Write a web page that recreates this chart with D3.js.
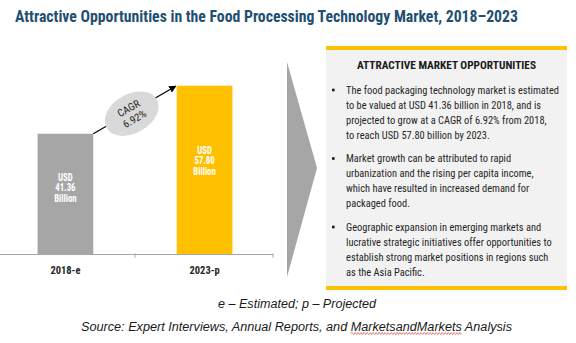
<!DOCTYPE html>
<html><head><meta charset="utf-8">
<script src="https://cdn.jsdelivr.net/npm/d3@7"></script>
<style>body{margin:0;background:#fff} svg{display:block}</style>
</head><body>
<script>
const titleText = "Attractive Opportunities in the Food Processing Technology Market, 2018–2023";
const categories = ["2018-e", "2023-p"];
const values = [41.36, 57.80];
const valueLabels = ["41.36", "57.80"];
const unitPrefix = "USD";
const unitSuffix = "Billion";
const cagrLines = ["CAGR", "6.92%"];
const panelTitle = "ATTRACTIVE MARKET OPPORTUNITIES";
const bullet1 = ["The food packaging technology market is estimated",
  "to be valued at USD 41.36 billion in 2018, and is",
  "projected to grow at a CAGR of 6.92% from 2018,",
  "to reach USD 57.80 billion by 2023."];
const bullet2 = ["Market growth can be attributed to rapid",
  "urbanization and the rising per capita income,",
  "which have resulted in increased demand for",
  "packaged food."];
const bullet3 = ["Geographic expansion in emerging markets and",
  "lucrative strategic initiatives offer opportunities to",
  "establish strong market positions in regions such",
  "as the Asia Pacific."];
const footnote = "e – Estimated; p – Projected";
const sourceNote = "Source: Expert Interviews, Annual Reports, and MarketsandMarkets  Analysis";
const spellWord = "MarketsandMarkets";

const W = 576, H = 343;
const COND = "'Liberation Sans Narrow','Arial Narrow','Roboto Condensed','DejaVu Sans Condensed','Liberation Sans',sans-serif";
const SANS = "'Liberation Sans',Arial,sans-serif";
const svg = d3.select("body").append("svg").attr("width", W).attr("height", H);

function fitTo(sel, target) {
  sel.attr("textLength", target).attr("lengthAdjust", "spacingAndGlyphs");
}
function fitGroup(sel, refNode, target) {
  const f = target / refNode.getComputedTextLength();
  sel.each(function () {
    const w = this.getComputedTextLength();
    d3.select(this).attr("textLength", w * f).attr("lengthAdjust", "spacingAndGlyphs");
  });
}

// Title
const title = svg.append("text").attr("x", 15).attr("y", 21.5)
  .attr("font-family", COND).attr("font-weight", "bold").attr("font-size", 16)
  .attr("fill", "#1f4f72").text(titleText);
fitTo(title, 503);

// Left chart
const baseY = 254.5;
const x = d3.scaleBand().domain(categories).range([0, 270]).paddingInner(0.6).paddingOuter(0.27);
const y = d3.scaleLinear().domain([0, 60]).range([baseY, baseY - 60 * 2.92]);
const colors = ["#a6a6a6", "#ffc000"];

svg.append("g").selectAll("rect").data(values).join("rect")
  .attr("x", (d, i) => x(categories[i])).attr("width", x.bandwidth())
  .attr("y", d => y(d)).attr("height", d => y(0) - y(d))
  .attr("fill", (d, i) => colors[i]);

const axisG = svg.append("g").attr("transform", `translate(0,${baseY})`)
  .call(d3.axisBottom(x).tickSize(0).tickPadding(12));
axisG.select(".domain").remove();
axisG.selectAll(".tick text").attr("font-family", COND).attr("font-weight", "bold")
  .attr("font-size", 10.5).attr("fill", "#262626").attr("dy", "0.71em");
const catTexts = axisG.selectAll(".tick text");
fitGroup(catTexts, catTexts.node(), 30);
const [r0, r1] = x.range();
axisG.append("line").attr("x1", r0).attr("x2", r1 + 3).attr("y1", 0).attr("y2", 0)
  .attr("stroke", "#a6a6a6").attr("stroke-width", 1);
const boundaries = [x(categories[1]) - x.step() * x.paddingInner() / 2, r1 + 3];
axisG.selectAll(".btick").data(boundaries).join("line").attr("class", "btick")
  .attr("x1", d => d).attr("x2", d => d).attr("y1", -1).attr("y2", 3)
  .attr("stroke", "#a6a6a6");

// bar value labels
const labG = svg.append("g");
const labOffsets = [-6.5, -9.5];
values.forEach((v, i) => {
  const cx = x(categories[i]) + x.bandwidth() / 2;
  const mid = (y(v) + y(0)) / 2 + labOffsets[i];
  const lines = [unitPrefix, valueLabels[i], unitSuffix];
  lines.forEach((t, j) => {
    labG.append("text").attr("x", cx).attr("y", mid + (j - 1) * 10.5)
      .attr("dy", "0.35em").attr("text-anchor", "middle")
      .attr("font-family", COND).attr("font-weight", "bold").attr("font-size", 10)
      .attr("fill", "#ffffff").attr("class", "vl").text(t);
  });
});
const vl = labG.selectAll("text.vl");
fitGroup(vl, vl.filter((d, i) => i === 2).node(), 22.5);

// CAGR arrow
const p0 = [x(categories[0]) + x.bandwidth(), y(values[0])];
const p1 = [x(categories[1]), y(values[1])];
const defs = svg.append("defs");
defs.append("marker").attr("id", "ah").attr("viewBox", "0 0 10 10").attr("refX", 9).attr("refY", 5)
  .attr("markerWidth", 6).attr("markerHeight", 6).attr("orient", "auto")
  .append("path").attr("d", "M0,0 L10,5 L0,10 z").attr("fill", "#000");
svg.append("line").attr("x1", p0[0]).attr("y1", p0[1]).attr("x2", p1[0] - 1).attr("y2", p1[1] + 0.5)
  .attr("stroke", "#000").attr("stroke-width", 1.2).attr("marker-end", "url(#ah)");
const ang = Math.atan2(p1[1] - p0[1], p1[0] - p0[0]) * 180 / Math.PI;
const ec = [p0[0] + (p1[0] - p0[0]) * 0.46, p0[1] + (p1[1] - p0[1]) * 0.46 + 2];
const eg = svg.append("g").attr("transform", `translate(${ec[0]},${ec[1]}) rotate(${ang})`);
eg.append("ellipse").attr("rx", 29).attr("ry", 19.5).attr("fill", "#d9d9d9");
const ct = eg.selectAll("text").data(cagrLines).join("text")
  .attr("x", 0).attr("y", (d, i) => (i - 0.5) * 12).attr("dy", "0.35em").attr("text-anchor", "middle")
  .attr("font-family", COND).attr("font-size", 10.5).attr("fill", "#262626").text(d => d);
fitGroup(ct, ct.node(), 24);

// chevron
svg.append("path").attr("d", "M287,62 L317,168 L287,277 Z").attr("fill", "#a6a6a6");

// panel
const px0 = 326, px1 = 567, py0 = 46, py1 = 290;
svg.append("rect").attr("x", px0).attr("y", py0).attr("width", px1 - px0).attr("height", py1 - py0).attr("fill", "#f2f2f2");
svg.append("rect").attr("x", px0).attr("y", py0).attr("width", px1 - px0).attr("height", 4).attr("fill", "#ffc000");
svg.append("rect").attr("x", px0).attr("y", py1 - 4).attr("width", px1 - px0).attr("height", 4).attr("fill", "#ffc000");

const ph = svg.append("text").attr("x", (px0 + px1) / 2).attr("y", 68.5).attr("text-anchor", "middle")
  .attr("font-family", COND).attr("font-weight", "bold").attr("font-size", 11.5)
  .attr("fill", "#1a1a1a").text(panelTitle);
fitTo(ph, 179);

const bullets = [bullet1, bullet2, bullet3];
const lineH = 15, gap = 8.5;
let by = 93.5;
const btG = svg.append("g");
bullets.forEach(lines => {
  btG.append("rect").attr("x", 332).attr("y", by - 4.8).attr("width", 2.6).attr("height", 2.6).attr("fill", "#1a1a1a");
  lines.forEach((t, j) => {
    btG.append("text").attr("x", 346).attr("y", by + j * lineH)
      .attr("font-family", COND).attr("font-size", 10.5).attr("fill", "#262626")
      .attr("class", "bl").text(t);
  });
  by += lines.length * lineH + gap;
});
const bl = btG.selectAll("text.bl");
fitGroup(bl, bl.node(), 213);

// footnotes
const fn = svg.append("text").attr("x", 297).attr("y", 308).attr("text-anchor", "middle")
  .attr("font-family", SANS).attr("font-style", "italic").attr("font-size", 12.5)
  .attr("fill", "#1a1a1a").text(footnote);
fitTo(fn, 158);
const sn = svg.append("text").attr("x", 296.5).attr("y", 331).attr("text-anchor", "middle")
  .attr("font-family", SANS).attr("font-style", "italic").attr("font-size", 12.5)
  .attr("fill", "#1a1a1a").text(sourceNote);
fitTo(sn, 431);

try {
  const node = sn.node();
  const i0 = sourceNote.indexOf(spellWord);
  const i1 = i0 + spellWord.length - 1;
  const xs = node.getStartPositionOfChar(i0).x;
  const xe = node.getEndPositionOfChar(i1).x;
  const uy = 333.5;
  let d = `M${xs},${uy}`;
  let up = true;
  for (let xx = xs + 1.5; xx <= xe; xx += 1.5) { d += ` L${xx},${uy + (up ? -1 : 1)}`; up = !up; }
  svg.append("path").attr("d", d).attr("fill", "none").attr("stroke", "#e0403a").attr("stroke-width", 0.7);
} catch (e) {}
</script>
</body></html>
